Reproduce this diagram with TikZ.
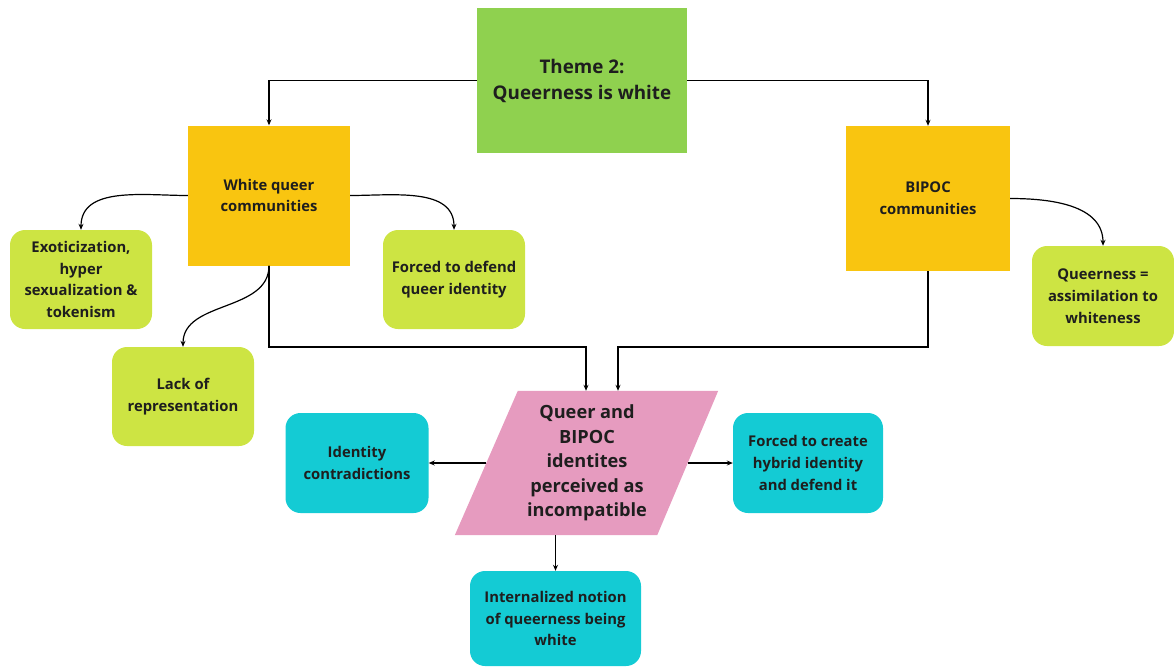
\documentclass[tikz,border=0pt]{standalone}
\usepackage{fontspec}
\setmainfont{Open Sans}
\usetikzlibrary{arrows.meta,calc}
\definecolor{themegreen}{HTML}{8FD14F}
\definecolor{orangebox}{HTML}{F9C510}
\definecolor{limebox}{HTML}{CDE443}
\definecolor{cyanbox}{HTML}{14CBD4}
\definecolor{pinkbox}{HTML}{E69BBF}
\definecolor{ink}{HTML}{1E1E1E}
\tikzset{
  base/.style={inner sep=0pt, align=center, text=ink},
  themebox/.style={base, fill=themegreen, minimum width=210pt, minimum height=145pt,
    font=\fontsize{18.8}{26}\selectfont\bfseries},
  orbox/.style={base, fill=orangebox, minimum width=162pt, minimum height=140pt,
    font=\fontsize{14.8}{21.7}\selectfont\bfseries},
  limenode/.style={base, fill=limebox, rounded corners=15pt, minimum width=142pt, minimum height=99pt,
    font=\fontsize{14.8}{21.7}\selectfont\bfseries},
  cyannode/.style={base, fill=cyanbox, rounded corners=15pt, minimum width=143pt, minimum height=100pt,
    font=\fontsize{14.8}{21.7}\selectfont\bfseries},
  parnode/.style={base, minimum width=201pt, minimum height=144pt,
    font=\fontsize{18.2}{24.5}\selectfont\bfseries},
  conn/.style={draw=black, line width=1.2pt, -{Stealth[length=6pt,width=5pt]}},
}
\begin{document}
\begin{tikzpicture}[x=1pt,y=-1pt]
\useasboundingbox (0,0) rectangle (1174,667);

% parallelogram node (text holder) and its shape
\node[parnode] (par) at (587,463) {};
\fill[pinkbox] ($(par.north west)+(31.5,0)$) -- ($(par.north east)+(30.5,0)$)
   -- ($(par.south east)-(30.5,0)$) -- ($(par.south west)-(31.5,0)$) -- cycle;
\node[parnode] at (par.center) {Queer and\\BIPOC\\identites\\perceived as\\incompatible};

\node[themebox] (theme) at (582,80.5) {Theme 2:\\Queerness is white};
\node[orbox] (wq) at (269,195.5) {White queer\\communities};
\node[orbox, minimum width=164pt, minimum height=145pt] (bipoc) at (928,198.5) {BIPOC\\communities};

\node[limenode] (exo) at (81,279.5) {Exoticization,\\hyper\\sexualization \&\\tokenism};
\node[limenode] (fdef) at (454,279.5) {Forced to defend\\queer identity};
\node[limenode] (lack) at (183,396.5) {Lack of\\representation};
\node[limenode, minimum height=100pt] (qa) at (1103,296) {Queerness =\\assimilation to\\whiteness};

\node[cyannode] (ident) at (357,463) {Identity\\contradictions};
\node[cyannode, minimum width=150pt] (fcreate) at (808,463) {Forced to create\\hybrid identity\\and defend it};
\node[cyannode, minimum width=171pt, minimum height=95pt] (intern) at (555.5,618.5) {Internalized notion\\of queerness being\\white};

% connectors
\draw[conn] (theme.west) -| (wq.north);
\draw[conn] (theme.east) -| (bipoc.north);
\draw[conn] (wq.west) to[out=180,in=90] (exo.north);
\draw[conn] (wq.east) to[out=0,in=90] (fdef.north);
\draw[conn] (wq.south) to[out=-90,in=90] (lack.north);
\coordinate (jl) at ($(par.north)+(-1,0)$);
\coordinate (jr) at ($(par.north)+(31,0)$);
\draw[conn] (wq.south) -- (wq.south |- 0,347) -| (jl);
\draw[conn] (bipoc.south) -- (bipoc.south |- 0,347) -| (jr);
\draw[conn] (bipoc.east) to[out=0,in=90] (qa.north);
\draw[conn] (par.west) -- (ident.east);
\draw[conn] (par.east) -- (fcreate.west);
\draw[conn] (par.south -| intern.north) -- (intern.north);
\end{tikzpicture}
\end{document}
